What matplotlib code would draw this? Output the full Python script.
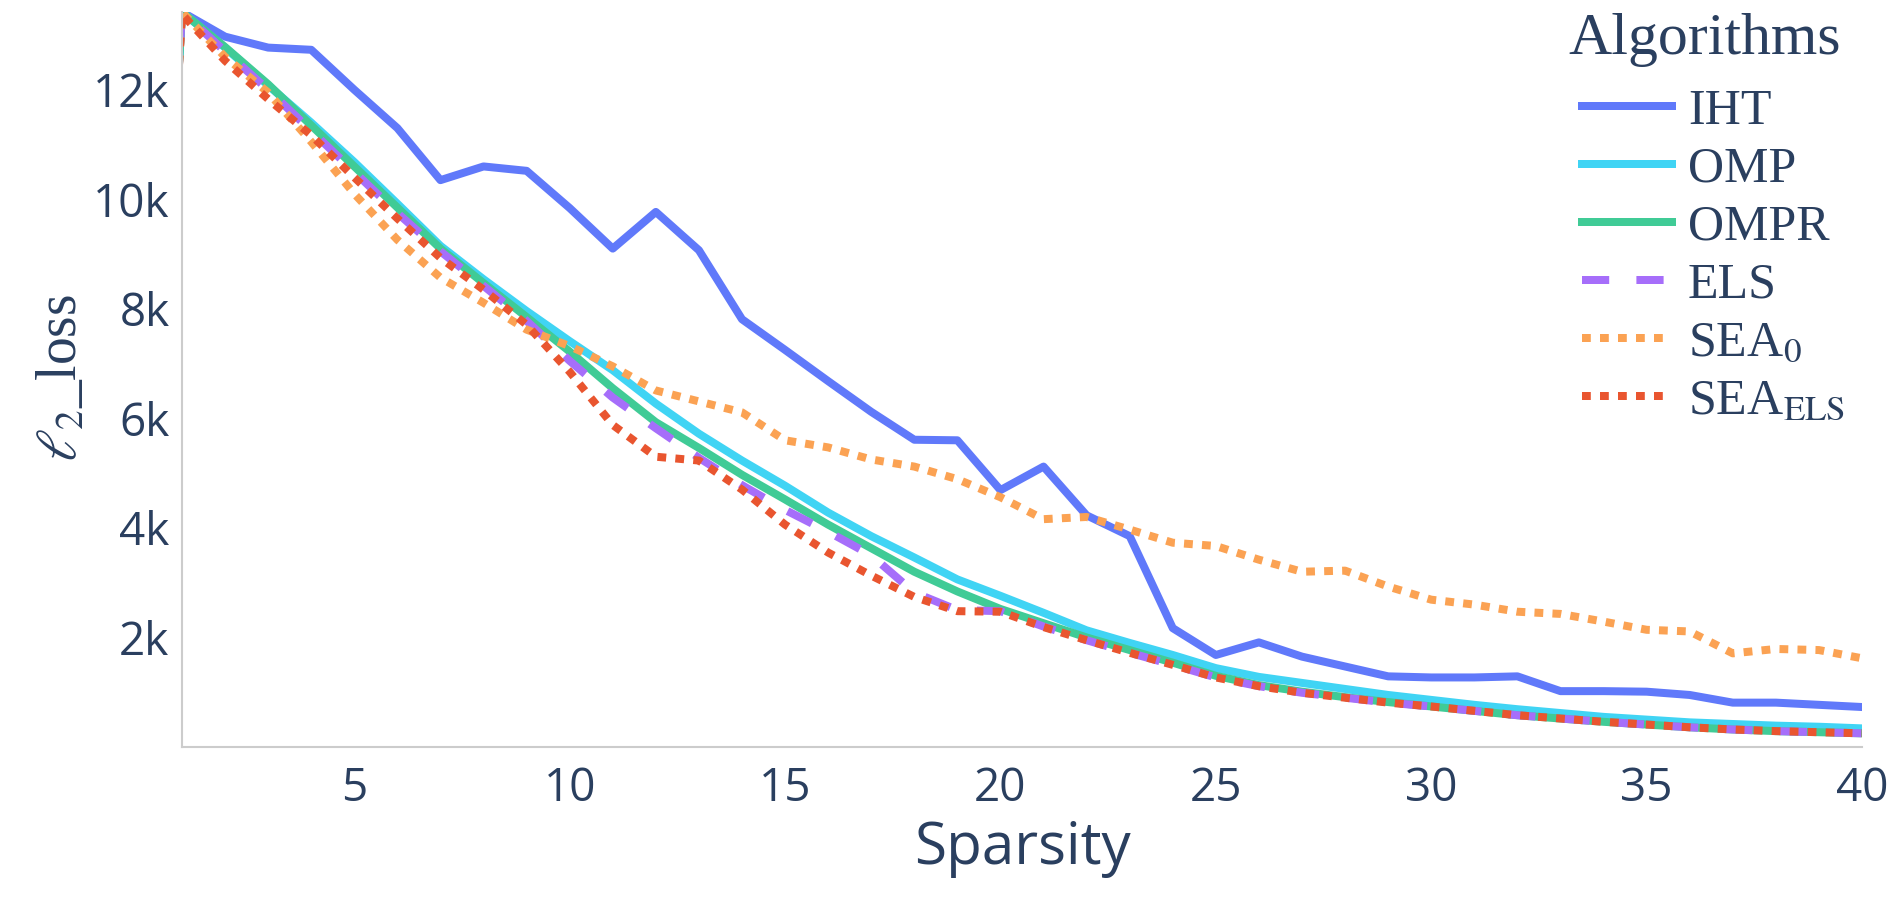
import matplotlib
matplotlib.use("Agg")
import matplotlib.pyplot as plt
from matplotlib.ticker import FuncFormatter, FixedLocator

plt.rcParams['mathtext.fontset'] = 'stix'

# sparsity 0 is outside the shown range, its steep segment only peeks in at x=1
sparsity = list(range(0, 41))

iht = [0, 13420, 12970, 12770, 12730, 12000, 11300, 10350, 10600, 10520, 9840,
       9100, 9770, 9070, 7810, 7250, 6680, 6120, 5610, 5600, 4690,
       5120, 4230, 3850, 2170, 1680, 1910, 1650, 1470, 1290, 1270,
       1270, 1290, 1020, 1020, 1010, 950, 810, 810, 770, 730]
omp = [0, 13420, 12770, 12080, 11400, 10680, 9920, 9150, 8540, 7960, 7410,
       6880, 6270, 5720, 5230, 4770, 4280, 3850, 3460, 3060, 2760,
       2450, 2130, 1900, 1680, 1440, 1280, 1170, 1060, 950, 860,
       770, 690, 620, 550, 500, 450, 420, 390, 370, 340]
ompr = [0, 13420, 12780, 12100, 11350, 10600, 9850, 9100, 8470, 7850, 7220,
        6550, 5930, 5460, 4970, 4520, 4060, 3630, 3200, 2840, 2520,
        2260, 2000, 1770, 1540, 1300, 1130, 1010, 910, 820, 740,
        660, 580, 520, 460, 410, 360, 320, 290, 270, 250]
els = [0, 13420, 12700, 12000, 11250, 10500, 9750, 9050, 8420, 7780, 7050,
       6380, 5820, 5280, 4780, 4330, 3930, 3500, 2820, 2500, 2480,
       2200, 1950, 1720, 1500, 1270, 1110, 990, 900, 810, 740,
       660, 580, 520, 460, 410, 360, 320, 290, 270, 250]
sea0 = [0, 13420, 12600, 11950, 11050, 10100, 9260, 8570, 8110, 7620, 7320,
        6950, 6510, 6310, 6110, 5600, 5470, 5250, 5120, 4890, 4560,
        4160, 4200, 3970, 3730, 3670, 3420, 3200, 3220, 2930, 2690,
        2600, 2470, 2430, 2290, 2140, 2110, 1710, 1790, 1770, 1620]
sea_els = [0, 13380, 12530, 11830, 11170, 10400, 9650, 8930, 8350, 7710, 6850,
           5880, 5300, 5230, 4700, 4060, 3550, 3130, 2740, 2480, 2470,
           2190, 1950, 1720, 1500, 1270, 1110, 990, 900, 810, 740,
           660, 580, 520, 460, 410, 360, 320, 290, 270, 250]

names = ["IHT", "OMP", "OMPR", "ELS", r"SEA$_0$", r"SEA$_{\mathrm{ELS}}$"]
series = [iht, omp, ompr, els, sea0, sea_els]
colors = ["#6079FA", "#40D4F4", "#40CB96", "#A66EFA", "#FBA253", "#E9552F"]
styles = ["-", "-", "-", (0, (3.4, 3.4)), (0, (1.1, 1.15)), (0, (1.1, 1.15))]

xticks = [5, 10, 15, 20, 25, 30, 35, 40]
yticks = [2000, 4000, 6000, 8000, 10000, 12000]

text_col = "#2a3f5f"
W, H = 1893, 897
fig = plt.figure(figsize=(W / 100, H / 100), dpi=100)
ax = fig.add_axes([182 / W, 1 - 747 / H, (1862 - 182) / W, (747 - 12) / H])

lw = 8 * 72 / 100
for name, ys, c, ls in zip(names, series, colors, styles):
    ax.plot(sparsity, ys, color=c, lw=lw, linestyle=ls, label=name,
            solid_joinstyle="round", dash_capstyle="butt")

ax.set_xlim(1, 40)
ax.set_ylim(0, max(max(s) for s in series))

for side in ["top", "right"]:
    ax.spines[side].set_visible(False)
for side in ["left", "bottom"]:
    ax.spines[side].set_color("#cccccc")
    ax.spines[side].set_linewidth(1.5)

ax.xaxis.set_major_locator(FixedLocator(xticks))
ax.yaxis.set_major_locator(FixedLocator(yticks))
ax.yaxis.set_major_formatter(FuncFormatter(lambda v, p: "%dk" % (v / 1000)))
ax.tick_params(length=0, labelsize=33, labelcolor=text_col)
ax.tick_params(axis="x", pad=13.5)
ax.tick_params(axis="y", pad=9)
for lab in ax.get_xticklabels() + ax.get_yticklabels():
    lab.set_fontfamily("Open Sans")

fig.text(1022 / W, 1 - 849 / H, "Sparsity", ha="center", va="center",
         fontsize=42, color=text_col, family="Open Sans")
fig.text(62 / W, 1 - 378 / H, r"$\ell_2$_loss", ha="center", va="center",
         rotation=90, fontsize=40, color=text_col, family="Liberation Serif")

# legend title drawn on its own so the entries can sit indented under it
fig.text(1568 / W, 1 - 54 / H, "Algorithms", ha="left", va="baseline",
         fontsize=43, color=text_col, family="Liberation Serif")
leg = ax.legend(loc="upper left", bbox_to_anchor=(1582 / W, 1 - 88 / H),
                bbox_transform=fig.transFigure, frameon=False,
                prop={"family": "Liberation Serif", "size": 36},
                handlelength=1.8, handletextpad=0.32, labelspacing=0.23,
                borderpad=0, borderaxespad=0)
for t in leg.get_texts():
    t.set_color(text_col)

fig.savefig("out.png", dpi=100, facecolor="white")
